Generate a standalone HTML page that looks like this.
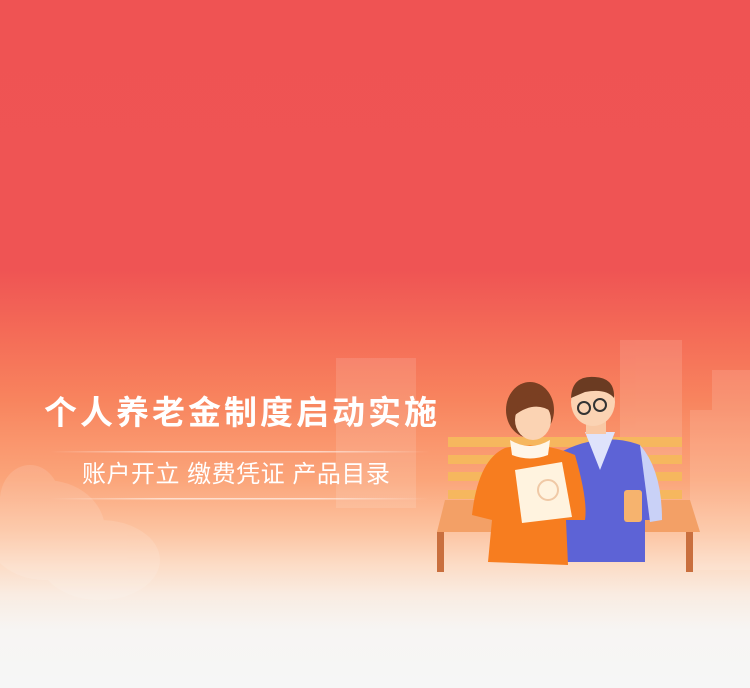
<!DOCTYPE html>
<html><head><meta charset="utf-8"><style>
html,body{margin:0;padding:0}
body{width:750px;height:688px;overflow:hidden;position:relative;font-family:"Liberation Sans","Noto Sans CJK SC",sans-serif;
background:linear-gradient(180deg,#ef5353 0px,#ef5454 270px,#f46a57 330px,#f8845e 400px,#fba57a 480px,#fcc3a0 530px,#fcdcc6 565px,#f9ece2 595px,#f7f5f3 630px,#f6f6f6 688px);}
.t{position:absolute;color:#fff;white-space:nowrap}
</style></head><body>
<svg width="750" height="688" style="position:absolute;left:0;top:0">
<g fill="#fff" opacity="0.12">
<rect x="336" y="358" width="80" height="150"/>
<rect x="620" y="340" width="62" height="120"/>
<rect x="712" y="370" width="38" height="200"/>
<rect x="690" y="410" width="30" height="160"/>
<ellipse cx="45" cy="530" rx="60" ry="50"/>
<ellipse cx="30" cy="500" rx="30" ry="35"/>
<ellipse cx="100" cy="560" rx="60" ry="40"/>
</g>
<defs><linearGradient id="ln" x1="0" x2="1"><stop offset="0" stop-color="#fff" stop-opacity="0"/><stop offset="0.3" stop-color="#fff" stop-opacity="0.6"/><stop offset="0.7" stop-color="#fff" stop-opacity="0.6"/><stop offset="1" stop-color="#fff" stop-opacity="0"/></linearGradient></defs>
<rect x="50" y="451" width="380" height="1.5" fill="url(#ln)"/>
<rect x="50" y="498" width="380" height="1.5" fill="url(#ln)"/>
<g>
<rect x="448" y="437" width="234" height="10" fill="#f6b75e"/>
<rect x="448" y="455" width="234" height="9" fill="#f6b75e"/>
<rect x="448" y="472" width="234" height="9" fill="#f6b75e"/>
<rect x="448" y="490" width="234" height="9" fill="#f6b75e"/>
<path d="M445 500 L690 500 L700 532 L437 532 Z" fill="#f3a066"/>
<rect x="437" y="532" width="7" height="40" fill="#c96f3e"/>
<rect x="686" y="532" width="7" height="40" fill="#c96f3e"/>
</g>
<g>
<path d="M555 455 Q600 430 640 445 Q660 470 660 520 L645 520 L645 562 L565 562 Z" fill="#5d63d6"/>
<path d="M640 445 Q662 470 662 520 L650 522 Z" fill="#c9d1f7"/>
<path d="M585 432 L600 470 L615 432 Z" fill="#dfe3fb"/>
<rect x="586" y="418" width="20" height="16" fill="#f9c8a4"/>
<ellipse cx="593" cy="402" rx="22" ry="24" fill="#fbd3b3"/>
<path d="M571 398 Q572 375 595 377 Q615 378 614 398 Q606 388 585 392 Z" fill="#6b3b22"/>
<circle cx="584" cy="408" r="6" fill="none" stroke="#333" stroke-width="2"/>
<circle cx="600" cy="405" r="6" fill="none" stroke="#333" stroke-width="2"/>
<rect x="624" y="490" width="18" height="32" rx="3" fill="#f6b36e"/>
</g>
<g>
<path d="M505 448 Q540 440 575 455 Q588 500 585 520 L566 520 L568 565 L488 562 L492 520 L472 515 Q478 460 505 448 Z" fill="#f77d1f"/>
<path d="M510 440 Q530 452 550 440 L548 455 Q530 462 512 455 Z" fill="#fff6e8"/>
<ellipse cx="530" cy="410" rx="24" ry="28" fill="#7a3f22"/>
<ellipse cx="533" cy="420" rx="18" ry="20" fill="#fbd3b3"/>
<path d="M515 415 Q520 392 540 395 Q550 402 552 412 Q535 400 515 415 Z" fill="#7a3f22"/>
<path d="M515 470 L562 462 L572 517 L522 523 Z" fill="#fff3df"/>
<circle cx="548" cy="490" r="10" fill="none" stroke="#f0c9a6" stroke-width="2"/>
</g>
</svg>
<div class="t" style="left:44px;top:392px;font-size:33px;font-weight:bold;letter-spacing:3px;line-height:42px">个人养老金制度启动实施</div>
<div class="t" style="left:82px;top:460px;font-size:24px;line-height:30px;letter-spacing:0.5px">账户开立 缴费凭证 产品目录</div>
</body></html>
